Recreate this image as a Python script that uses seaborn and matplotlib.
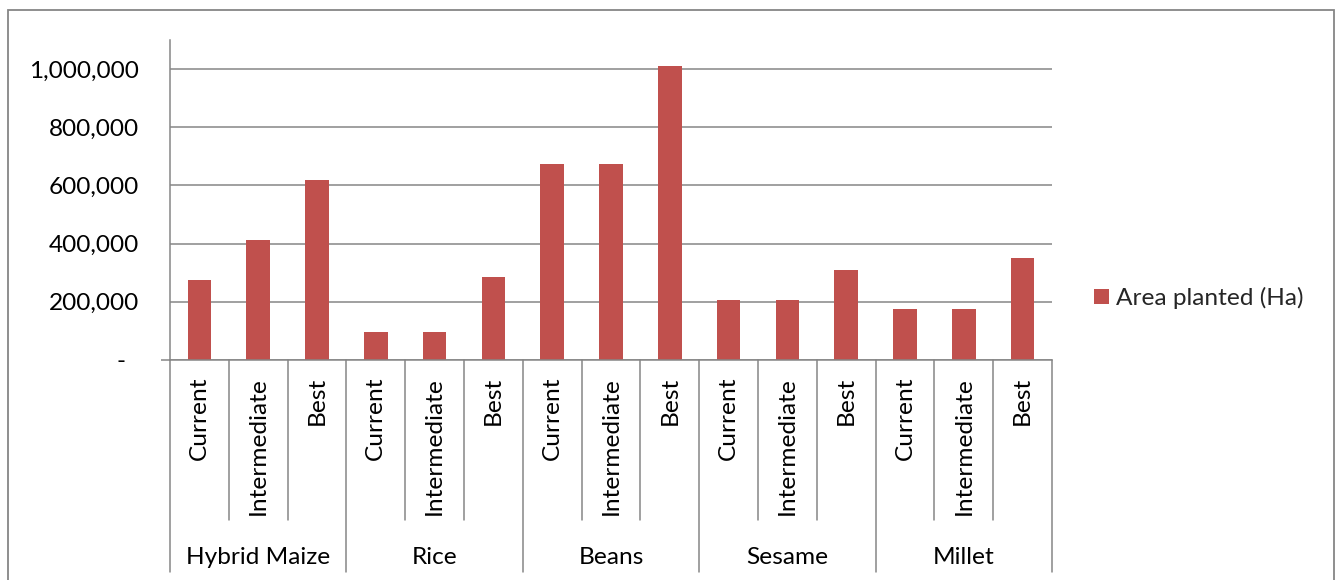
import matplotlib
matplotlib.use("Agg")
import matplotlib.pyplot as plt
import matplotlib.transforms as mtransforms
from matplotlib.lines import Line2D
from matplotlib.patches import Rectangle, Patch
import pandas as pd
import seaborn as sns

# Data
crops = ["Hybrid Maize", "Rice", "Beans", "Sesame", "Millet"]
scenarios = ["Current", "Intermediate", "Best"]
area_hybrid_maize = [274000, 414000, 620000]
area_rice = [96000, 96000, 286000]
area_beans = [673000, 673000, 1010000]
area_sesame = [207000, 207000, 310000]
area_millet = [176000, 176000, 350000]
series_name = "Area planted (Ha)"
ytick_values = [0, 200000, 400000, 600000, 800000, 1000000]
ytick_labels = ["-  ", "200,000", "400,000", "600,000", "800,000", "1,000,000"]

all_values = [area_hybrid_maize, area_rice, area_beans, area_sesame, area_millet]
rows = []
for crop, vals in zip(crops, all_values):
    for scen, v in zip(scenarios, vals):
        rows.append({"slot": f"{crop}|{scen}", "crop": crop, "scenario": scen, "area": v})
df = pd.DataFrame(rows)

sns.set_style("white")
plt.rcParams["font.family"] = ["Lato", "DejaVu Sans"]

BAR = "#C0504D"
GRID = "#868686"
FS = 17.6

W, H = 1340, 580
fig = plt.figure(figsize=(W / 100, H / 100), dpi=100)
ax = fig.add_axes([170 / W, 1 - 360 / H, (1052 - 170) / W, (360 - 40) / H])

sns.barplot(data=df, x="slot", y="area", color=BAR, width=0.4,
            linewidth=0, saturation=1, ax=ax, errorbar=None)

n = len(df)
ax.set_xlim(-0.5, n - 0.5)
ax.set_ylim(0, 1100000)
ax.set_axisbelow(True)
ax.yaxis.grid(True, color=GRID, linewidth=1.1)
ax.xaxis.grid(False)
ax.set_yticks(ytick_values)
ax.set_yticklabels(ytick_labels, fontsize=FS, color="black")
ax.tick_params(axis="y", direction="out", length=6.5, width=1.1, color=GRID, pad=16)
ax.set_xticks([])
ax.set_xlabel("")
ax.set_ylabel("")
for side in ["top", "right"]:
    ax.spines[side].set_visible(False)
for side in ["left", "bottom"]:
    ax.spines[side].set_color(GRID)
    ax.spines[side].set_linewidth(1.1)

# Extend the baseline a little to the left like the tick marks
ax.plot([-0.5 - 9 / 58.8, -0.5], [0, 0], color=GRID, lw=1.1, clip_on=False,
        solid_capstyle="butt")

# Multi-level category axis
trans = mtransforms.blended_transform_factory(ax.transData, fig.transFigure)
y_axis = 1 - 360 / H
y_inner = 1 - 520 / H
y_outer = 1 - 572 / H
for k in range(n + 1):
    xb = k - 0.5
    y_end = y_outer if k % 3 == 0 else y_inner
    fig.add_artist(Line2D([xb, xb], [y_axis, y_end], transform=trans,
                          color=GRID, linewidth=1.1))

for i, row in df.iterrows():
    fig.text(i, 1 - 377 / H, row["scenario"], transform=trans, rotation=90,
             ha="center", va="top", fontsize=FS, color="black")

for g, crop in enumerate(crops):
    fig.text(g * 3 + 1, 1 - 557 / H, crop, transform=trans,
             ha="center", va="center", fontsize=FS, color="black")

# Legend
handle = Patch(facecolor=BAR, edgecolor="none", label=series_name)
fig.legend(handles=[handle], loc="center left",
           bbox_to_anchor=(1094 / W, 1 - 298 / H), frameon=False,
           fontsize=FS, handlelength=0.62, handleheight=0.62,
           handletextpad=0.3, borderpad=0, borderaxespad=0)

# Chart frame
fig.add_artist(Rectangle((8 / W, -0.2), (1334 - 8) / W, 1.2 - 10 / H,
                         transform=fig.transFigure, fill=False,
                         edgecolor=GRID, linewidth=1.3))

fig.savefig("out.png", dpi=100)
